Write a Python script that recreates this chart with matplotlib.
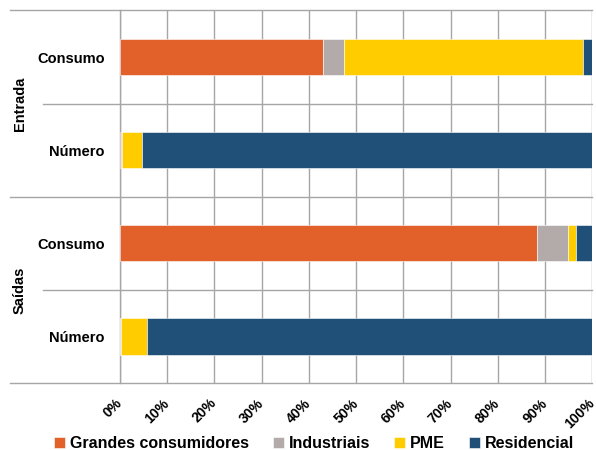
import numpy as np
import matplotlib
matplotlib.use("Agg")
import matplotlib.pyplot as plt

plt.rcParams['font.family'] = ['Liberation Sans Narrow', 'Liberation Sans', 'DejaVu Sans']
plt.rcParams['font.weight'] = 'bold'

# dados (percentagens)
categorias = ['Consumo', 'Número', 'Consumo', 'Número']
grupos = ['Entrada', 'Saídas']
series = ['Grandes consumidores', 'Industriais', 'PME', 'Residencial']
grandes = [43.0, 0.2, 88.3, 0.0]
industriais = [4.5, 0.2, 6.6, 0.3]
pme = [50.6, 4.3, 1.6, 5.5]
residencial = [1.9, 95.3, 3.5, 94.2]
cores = ['#E2612A', '#B3ABA9', '#FFCC00', '#204F78']
ticks_x = np.arange(0, 101, 10)

fig = plt.figure(figsize=(5.96, 4.5), dpi=100)
ax = fig.add_axes([0.2013, 0.149, 0.7925, 0.8277])

y = np.arange(len(categorias))
esq = np.zeros(len(categorias))
for nome, vals, cor in zip(series, [grandes, industriais, pme, residencial], cores):
    ax.barh(y, vals, left=esq, height=0.39, color=cor, label=nome,
            edgecolor='white', linewidth=0.4, zorder=3)
    esq += np.array(vals)

ax.set_xlim(0, 100)
ax.set_ylim(3.5, -0.5)
ax.set_xticks(ticks_x)
ax.set_xticklabels([f'{t}%' for t in ticks_x], rotation=45, ha='right', va='center',
                   rotation_mode='anchor', fontsize=10, fontweight='bold')
ax.set_yticks(y)
ax.set_yticklabels(categorias, fontsize=10.5, fontweight='bold')
ax.tick_params(axis='y', length=0, pad=11)
ax.tick_params(axis='x', length=0, pad=13)
ax.grid(axis='x', color='#A6A6A6', linewidth=1, zorder=0)
for s in ['top', 'right', 'bottom']:
    ax.spines[s].set_visible(False)
ax.spines['left'].set_color('#A6A6A6')
ax.spines['left'].set_linewidth(1)

# linhas separadoras
tr = ax.get_yaxis_transform()
for yy, x0 in [(-0.5, -0.233), (0.5, -0.163), (1.5, -0.233), (2.5, -0.163), (3.5, -0.233)]:
    ax.plot([x0, 1], [yy, yy], color='#A6A6A6', linewidth=1, transform=tr, clip_on=False, zorder=1)

for g, yc in zip(grupos, [0.5, 2.5]):
    ax.text(-0.212, yc, g, transform=tr, rotation=90, ha='center', va='center',
            fontsize=10.5, fontweight='bold')

leg = fig.legend(loc='lower center', bbox_to_anchor=(0.527, -0.035), ncol=4, frameon=False,
                 fontsize=11.5, handlelength=0.7, handleheight=0.7, handletextpad=0.3,
                 columnspacing=1.5)
for t in leg.get_texts():
    t.set_fontweight('bold')

fig.savefig('out.png', dpi=100)
